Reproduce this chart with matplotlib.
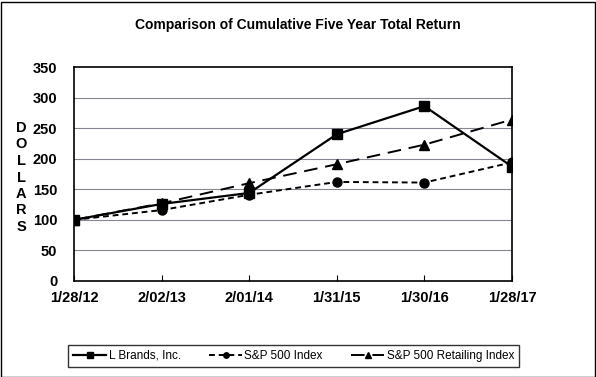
import matplotlib
matplotlib.use("Agg")
import matplotlib.pyplot as plt
from matplotlib.patches import Rectangle

plt.rcParams["font.family"] = ["Liberation Sans", "DejaVu Sans"]

dates = ["1/28/12", "2/02/13", "2/01/14", "1/31/15", "1/30/16", "1/28/17"]
l_brands = [100, 126, 144, 240, 286, 187]
sp500 = [100, 116, 141, 162, 161, 194]
sp_retail = [100, 127, 160, 191, 223, 264]
y_ticks = [0, 50, 100, 150, 200, 250, 300, 350]

fig = plt.figure(figsize=(5.96, 3.77), dpi=100)
ax = fig.add_axes([74 / 596, 1 - 281 / 377, (512 - 74) / 596, (281 - 67) / 377])

x = list(range(len(dates)))
ax.plot(x, l_brands, color="black", lw=1.6, marker="s", ms=6.5, label="L Brands, Inc.")
ax.plot(x, sp500, color="black", lw=1.4, ls=(0, (3, 2)), marker="o", ms=6.5, label="S&P 500 Index")
ax.plot(x, sp_retail, color="black", lw=1.4, ls=(0, (7, 4)), marker="^", ms=6.5, label="S&P 500 Retailing Index")

ax.set_xlim(0, len(dates) - 1)
ax.set_ylim(0, 350)
ax.set_yticks(y_ticks)
ax.set_xticks(x)
ax.set_xticklabels(dates, fontsize=10.5, fontweight="bold")
ax.set_yticklabels([str(v) for v in y_ticks], fontsize=10.5, fontweight="bold")
ax.tick_params(axis="x", direction="in", length=4, pad=7)
ax.tick_params(axis="y", length=0, pad=12)
for v in y_ticks[1:-1]:
    ax.axhline(v, color="#8a8490", lw=0.8, zorder=0)
for s in ax.spines.values():
    s.set_linewidth(1.2)

fig.text(0.5, 1 - 25 / 377, "Comparison of Cumulative Five Year Total Return",
         ha="center", va="center", fontsize=10, fontweight="bold")
for i, ch in enumerate("DOLLARS"):
    fig.text(21 / 596, 1 - (128 + i * 16.5) / 377, ch, ha="center", va="center",
             fontsize=10.5, fontweight="bold")

leg = fig.legend(loc="center", bbox_to_anchor=((72 + 515) / 2 / 596, 1 - 356 / 377),
                 ncol=3, fontsize=8.5, frameon=True, fancybox=False, edgecolor="black",
                 markerscale=0.6, handlelength=2.8, handletextpad=0.2, columnspacing=2.4,
                 borderpad=0.45, borderaxespad=0)
leg.get_frame().set_linewidth(1.0)

fig.patches.append(Rectangle((0.5 / 596, 0.5 / 377), 594 / 596, 375 / 377, transform=fig.transFigure,
                             fill=False, edgecolor="black", lw=1.0))

fig.savefig("out.png", dpi=100)
